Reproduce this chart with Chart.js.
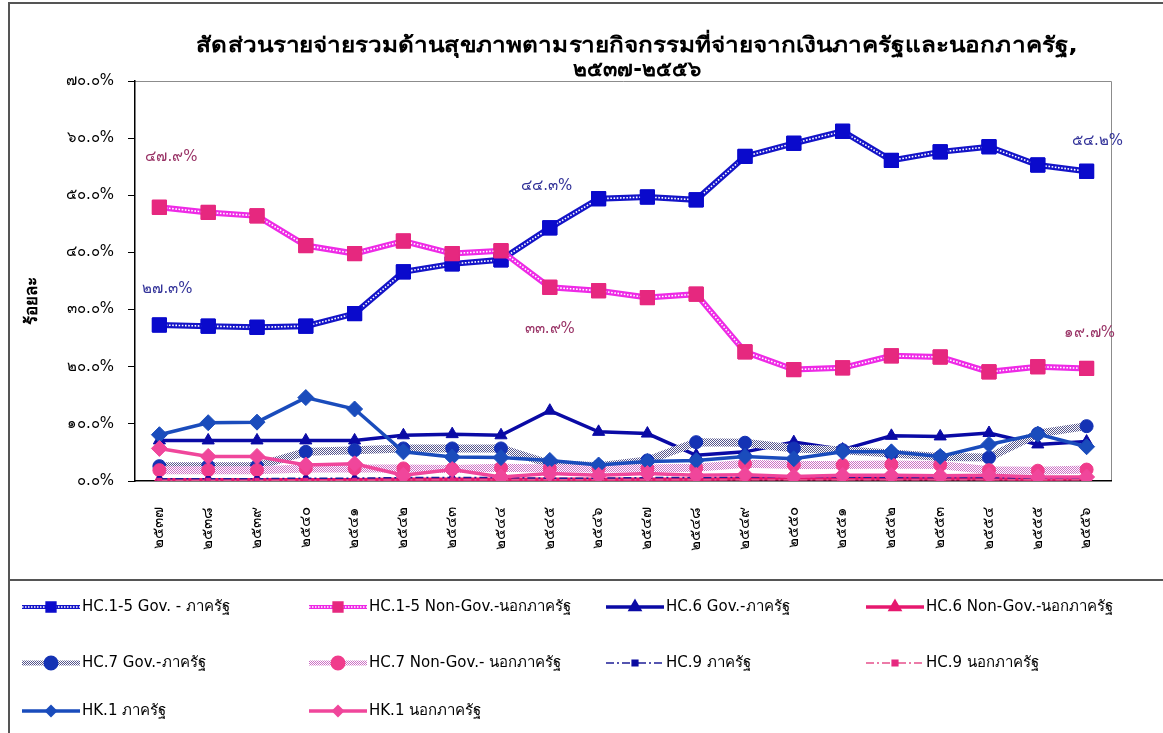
<!DOCTYPE html>
<html>
<head>
<meta charset="utf-8">
<script src="https://cdn.jsdelivr.net/npm/chart.js@4.4.0/dist/chart.umd.min.js"></script>
<style>
  html, body { margin: 0; padding: 0; background: #fff; }
  #wrap { width: 1163px; height: 733px; }
</style>
</head>
<body>
<div id="wrap"><canvas id="line" width="1163" height="733"></canvas></div>
<script>
// ปี พ.ศ. ๒๕๓๗-๒๕๕๖
const years = ['๒๕๓๗', '๒๕๓๘', '๒๕๓๙', '๒๕๔๐', '๒๕๔๑', '๒๕๔๒', '๒๕๔๓', '๒๕๔๔', '๒๕๔๕', '๒๕๔๖',
               '๒๕๔๗', '๒๕๔๘', '๒๕๔๙', '๒๕๕๐', '๒๕๕๑', '๒๕๕๒', '๒๕๕๓', '๒๕๕๔', '๒๕๕๕', '๒๕๕๖'];

const seriesNames = [
  'HC.1-5 Gov. - ภาครัฐ', 'HC.1-5 Non-Gov.-นอกภาครัฐ', 'HC.6 Gov.-ภาครัฐ', 'HC.6 Non-Gov.-นอกภาครัฐ',
  'HC.7 Gov.-ภาครัฐ', 'HC.7 Non-Gov.- นอกภาครัฐ', 'HC.9 ภาครัฐ', 'HC.9 นอกภาครัฐ',
  'HK.1 ภาครัฐ', 'HK.1 นอกภาครัฐ'
];

// ร้อยละ
const hc15Gov    = [27.3, 27.1, 26.9, 27.1, 29.3, 36.6, 38.0, 38.7, 44.3, 49.4, 49.7, 49.2, 56.8, 59.1, 61.2, 56.1, 57.6, 58.5, 55.3, 54.2];
const hc15NonGov = [47.9, 47.0, 46.4, 41.2, 39.8, 42.0, 39.8, 40.3, 33.9, 33.3, 32.1, 32.7, 22.6, 19.5, 19.8, 21.9, 21.7, 19.1, 20.0, 19.7];
const hc6Gov     = [7.1, 7.1, 7.1, 7.1, 7.1, 8.0, 8.2, 8.0, 12.3, 8.6, 8.3, 4.5, 5.1, 6.8, 5.5, 7.9, 7.8, 8.4, 6.4, 6.9];
const hc6NonGov  = [0.2, 0.2, 0.2, 0.2, 0.2, 0.3, 0.3, 0.3, 0.3, 0.3, 0.3, 0.3, 0.4, 0.4, 0.4, 0.4, 0.4, 0.4, 0.3, 0.4];
const hc7Gov     = [2.6, 2.6, 2.6, 5.1, 5.4, 5.7, 5.7, 5.7, 3.0, 2.6, 3.6, 6.8, 6.7, 5.7, 5.4, 4.8, 4.2, 4.1, 8.3, 9.6];
const hc7NonGov  = [1.9, 1.9, 1.9, 2.2, 2.2, 2.2, 2.1, 2.3, 2.2, 2.2, 2.2, 2.3, 3.0, 2.8, 2.8, 2.9, 2.8, 1.9, 1.8, 2.0];
const hc9Gov     = [0.4, 0.4, 0.4, 0.5, 0.5, 0.6, 0.6, 0.6, 0.5, 0.5, 0.6, 0.6, 0.7, 0.7, 0.7, 0.6, 0.6, 0.6, 0.5, 0.5];
const hc9NonGov  = [0.1, 0.1, 0.1, 0.1, 0.1, 0.2, 0.2, 0.2, 0.2, 0.2, 0.2, 0.2, 0.2, 0.2, 0.2, 0.2, 0.2, 0.2, 0.2, 0.2];
const hk1Gov     = [8.1, 10.2, 10.3, 14.6, 12.6, 5.1, 4.2, 4.1, 3.6, 2.8, 3.4, 3.6, 4.3, 3.9, 5.1, 5.1, 4.3, 6.4, 8.2, 6.0];
const hk1NonGov  = [5.7, 4.3, 4.3, 2.8, 3.0, 1.0, 2.0, 0.7, 1.3, 1.0, 1.3, 1.0, 1.1, 0.8, 1.0, 1.0, 0.9, 1.0, 0.7, 0.7];

const yTicks = [0, 10, 20, 30, 40, 50, 60, 70];

const FONT = "Tahoma, 'DejaVu Sans', 'Noto Sans', sans-serif";
const thaiDigits = '๐๑๒๓๔๕๖๗๘๙';
const toThai = s => String(s).replace(/[0-9]/g, d => thaiDigits[d]);

// ลายตารางสำหรับเส้น HC.7
function checker(fg, bg) {
  const c = document.createElement('canvas');
  c.width = 2; c.height = 2;
  const g = c.getContext('2d');
  g.fillStyle = bg; g.fillRect(0, 0, 2, 2);
  g.fillStyle = fg; g.fillRect(0, 0, 1, 1); g.fillRect(1, 1, 1, 1);
  return g.createPattern(c, 'repeat');
}

const ctx = document.getElementById('line').getContext('2d');

function series(i, data, o) {
  return Object.assign({
    label: seriesNames[i],
    data: data,
    order: 20 - i,
    fill: false,
    tension: 0,
    pointBorderWidth: 1,
    pointHoverRadius: 0
  }, o);
}

const datasets = [
  series(0, hc15Gov, { borderColor: '#1414c8', borderWidth: 6, innerDot: true,
    pointStyle: 'rect', pointRadius: 10, pointBackgroundColor: '#0a0acc', pointBorderColor: '#0a0acc', legendRadius: 7 }),
  series(1, hc15NonGov, { borderColor: '#ee2ae6', borderWidth: 6, innerDot: true,
    pointStyle: 'rect', pointRadius: 10, pointBackgroundColor: '#e6287f', pointBorderColor: '#e6287f', legendRadius: 7 }),
  series(2, hc6Gov, { borderColor: '#0a0aa5', borderWidth: 3.5,
    pointStyle: 'triangle', pointRadius: 7, pointBackgroundColor: '#0a0aa5', pointBorderColor: '#0a0aa5', legendRadius: 5 }),
  series(3, hc6NonGov, { borderColor: '#e6186e', borderWidth: 3.5,
    pointStyle: 'triangle', pointRadius: 7, pointBackgroundColor: '#e6186e', pointBorderColor: '#e6186e', legendRadius: 5 }),
  series(4, hc7Gov, { borderColor: checker('#54548c', '#ffffff'), borderWidth: 8,
    pointStyle: 'circle', pointRadius: 6.5, pointBackgroundColor: '#1432b4', pointBorderColor: '#1432b4', legendRadius: 5, legendWidth: 5 }),
  series(5, hc7NonGov, { borderColor: checker('#cc70c4', '#ffffff'), borderWidth: 8,
    pointStyle: 'circle', pointRadius: 6.5, pointBackgroundColor: '#f03c8c', pointBorderColor: '#f03c8c', legendRadius: 5, legendWidth: 5 }),
  series(6, hc9Gov, { borderColor: '#1e1e96', borderWidth: 1.5, borderDash: [8, 3, 2, 3],
    pointStyle: 'rect', pointRadius: 3, pointBackgroundColor: '#0a0aa0', pointBorderColor: '#0a0aa0', legendRadius: 4 }),
  series(7, hc9NonGov, { borderColor: '#e6508c', borderWidth: 1.5, borderDash: [8, 3, 2, 3],
    pointStyle: 'rect', pointRadius: 3, pointBackgroundColor: '#e6287f', pointBorderColor: '#e6287f', legendRadius: 4 }),
  series(8, hk1Gov, { borderColor: '#1a4cbc', borderWidth: 3.5,
    pointStyle: 'rectRot', pointRadius: 8, pointBackgroundColor: '#1a4cbc', pointBorderColor: '#1a4cbc', legendRadius: 4 }),
  series(9, hk1NonGov, { borderColor: '#f0469b', borderWidth: 3.5,
    pointStyle: 'rectRot', pointRadius: 8, pointBackgroundColor: '#f0469b', pointBorderColor: '#f0469b', legendRadius: 4 })
];

// ป้ายค่าบนเส้น HC.1-5: [ชุดข้อมูล, ลำดับปี, เลื่อน x, เลื่อน y]
const valueLabels = [
  [1, 0, 12, -50], [0, 0, 8, -36],
  [0, 8, -3, -42], [1, 8, 0, 42],
  [0, 19, 11, -30], [1, 19, 3, -35]
];

const innerDots = {
  id: 'innerDots',
  afterDatasetDraw(chart, args) {
    const ds = chart.data.datasets[args.index];
    if (!ds.innerDot) return;
    const c = chart.ctx;
    c.save();
    c.beginPath();
    args.meta.dataset.path(c);
    c.strokeStyle = '#ffffff';
    c.lineWidth = 1.6;
    c.setLineDash([1.6, 1.6]);
    c.stroke();
    c.restore();
    args.meta.data.forEach(p => p.draw(c, chart.chartArea));
  }
};

const decor = {
  id: 'decor',
  beforeDraw(chart) {
    const c = chart.ctx, a = chart.chartArea;
    c.save();
    c.fillStyle = '#fff';
    c.fillRect(0, 0, chart.width, chart.height);
    // กรอบแผนภูมิและกรอบคำอธิบาย
    c.strokeStyle = '#555';
    c.lineWidth = 2;
    c.beginPath();
    c.moveTo(9, chart.height); c.lineTo(9, 3); c.lineTo(chart.width, 3);
    c.moveTo(9, 580); c.lineTo(chart.width, 580);
    c.stroke();
    // กรอบพื้นที่กราฟ
    c.strokeStyle = '#8c8c8c';
    c.lineWidth = 1;
    c.beginPath();
    c.moveTo(a.left, a.top + 0.5); c.lineTo(a.right + 0.5, a.top + 0.5); c.lineTo(a.right + 0.5, a.bottom);
    c.stroke();
    c.restore();
  },
  afterDraw(chart) {
    const c = chart.ctx, a = chart.chartArea;
    const xs = chart.scales.x, ys = chart.scales.y;
    c.save();
    // ชื่อแผนภูมิ
    c.fillStyle = '#000';
    c.textAlign = 'center';
    c.textBaseline = 'middle';
    c.font = 'bold 21px ' + FONT;
    const cx = (a.left + a.right) / 2 + 14;
    c.save();
    c.translate(cx, 47);
    c.scale(1.16, 1);
    c.fillText('สัดส่วนรายจ่ายรวมด้านสุขภาพตามรายกิจกรรมที่จ่ายจากเงินภาครัฐและนอกภาครัฐ,', 0, 0);
    c.restore();
    c.fillText('๒๕๓๗-๒๕๕๖', cx, 71);
    // ชื่อแกนตั้ง
    c.save();
    c.translate(33, (a.top + a.bottom) / 2 + 20);
    c.rotate(-Math.PI / 2);
    c.font = 'bold 17px ' + FONT;
    c.fillText('ร้อยละ', 0, 0);
    c.restore();
    // ป้ายค่า
    c.font = '15px ' + FONT;
    valueLabels.forEach(([d, i, dx, dy]) => {
      const v = chart.data.datasets[d].data[i];
      c.fillStyle = d === 0 ? '#333399' : '#993366';
      c.fillText(toThai(v.toFixed(1)) + '%', xs.getPixelForValue(i) + dx, ys.getPixelForValue(v) + dy);
    });
    // คำอธิบายสัญลักษณ์
    const cols = [22, 309, 606, 866], rows = [607, 663, 711];
    c.textAlign = 'left';
    c.font = '15px ' + FONT;
    chart.data.datasets.forEach((ds, i) => {
      const x = cols[i % 4], y = rows[Math.floor(i / 4)];
      c.save();
      c.strokeStyle = ds.borderColor;
      c.lineWidth = ds.legendWidth || Math.min(ds.borderWidth, 4);
      c.setLineDash(ds.borderDash || []);
      c.beginPath(); c.moveTo(x, y); c.lineTo(x + 58, y); c.stroke();
      if (ds.innerDot) {
        c.strokeStyle = '#fff'; c.lineWidth = 1.4; c.setLineDash([1.5, 1.5]);
        c.beginPath(); c.moveTo(x, y); c.lineTo(x + 58, y); c.stroke();
      }
      c.setLineDash([]);
      c.fillStyle = ds.pointBackgroundColor;
      c.strokeStyle = ds.pointBorderColor;
      Chart.helpers.drawPoint(c, { pointStyle: ds.pointStyle, radius: ds.legendRadius, rotation: 0, borderWidth: 1 }, x + 29, y);
      c.restore();
      c.fillStyle = '#000';
      c.fillText(ds.label, x + 60, y);
    });
    c.restore();
  }
};

new Chart(ctx, {
  type: 'line',
  data: { labels: years, datasets: datasets },
  options: {
    responsive: false,
    animation: false,
    events: [],
    layout: { padding: { left: 0, top: 81, right: 52, bottom: 152 } },
    plugins: {
      legend: { display: false },
      title: { display: false },
      tooltip: { enabled: false }
    },
    scales: {
      x: {
        offset: true,
        grid: { display: false, offset: true },
        border: { display: true, color: '#000', width: 1.5 },
        ticks: {
          autoSkip: false, maxRotation: 90, minRotation: 90, padding: 18,
          color: '#000', font: { family: FONT, size: 15 }
        },
        afterFit: s => { s.height = 100; }
      },
      y: {
        min: 0, max: 70,
        afterBuildTicks: s => { s.ticks = yTicks.map(v => ({ value: v })); },
        grid: { display: true, drawOnChartArea: false, drawTicks: true, tickLength: 7, color: '#000' },
        border: { display: true, color: '#000', width: 1.5 },
        ticks: {
          padding: 14, color: '#000', font: { family: FONT, size: 15 },
          callback: v => toThai(v.toFixed(1)) + '%'
        },
        afterFit: s => { s.width = 135; }
      }
    }
  },
  plugins: [decor, innerDots]
});
</script>
</body>
</html>
